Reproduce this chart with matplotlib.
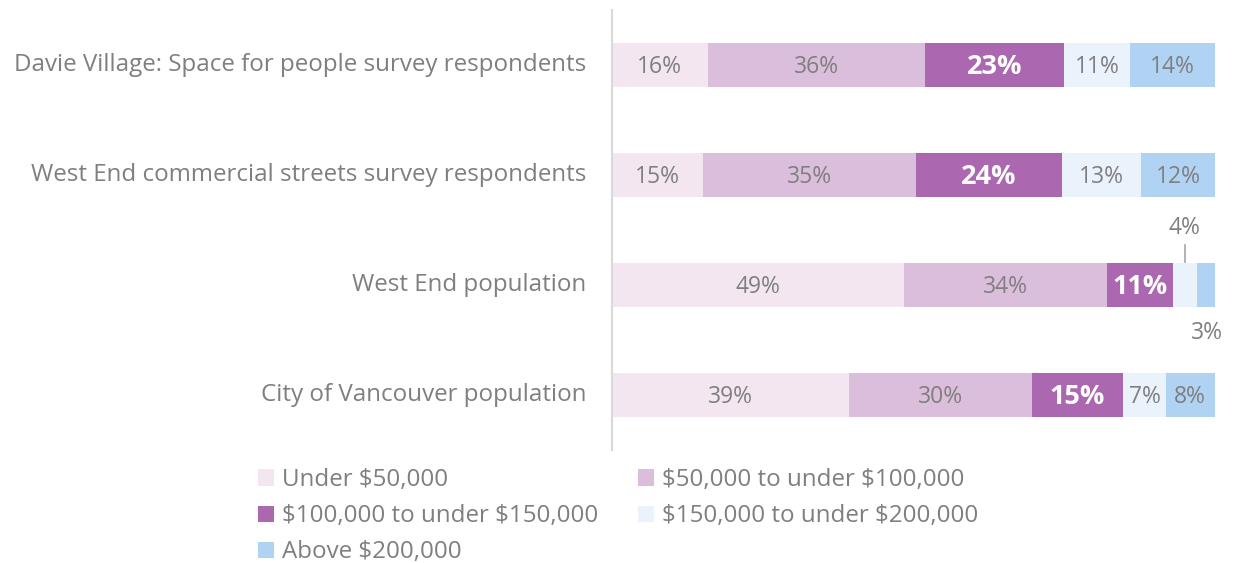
import matplotlib.pyplot as plt
from matplotlib.patches import Patch
import numpy as np

plt.rcParams['font.family'] = ['Open Sans', 'DejaVu Sans']
plt.rcParams['text.parse_math'] = False

categories = [
    "Davie Village: Space for people survey respondents",
    "West End commercial streets survey respondents",
    "West End population",
    "City of Vancouver population",
]
series_names = [
    "Under $50,000",
    "$50,000 to under $100,000",
    "$100,000 to under $150,000",
    "$150,000 to under $200,000",
    "Above $200,000",
]
values = np.array([
    [16, 36, 23, 11, 14],
    [15, 35, 24, 13, 12],
    [49, 34, 11, 4, 3],
    [39, 30, 15, 7, 8],
], dtype=float)
colors = ["#F3E6F1", "#DBBEDC", "#AB68B0", "#EAF2FC", "#B0D3F4"]
gray = "#7F7F7F"

# bars are stretched to 100% in the source chart
shares = values / values.sum(axis=1, keepdims=True) * 100

fig = plt.figure(figsize=(12.33, 5.63), dpi=100)
ax = fig.add_axes([0.496, 1 - 450 / 563, 0.489, 440 / 563])

y = np.arange(len(categories))
left = np.zeros(len(categories))
for j, name in enumerate(series_names):
    w = shares[:, j]
    ax.barh(y, w, left=left, height=0.4, color=colors[j], label=name)
    for i in range(len(categories)):
        cx = left[i] + w[i] / 2
        txt = f"{values[i, j]:.0f}%"
        if i == 2 and j == 3:
            # small slice: label above with a leader tick
            ax.text(cx, y[i] - 0.41, txt, ha='center', va='bottom', color=gray, fontsize=16.5)
            ax.plot([cx, cx], [y[i] - 0.36, y[i] - 0.21], color="#A6A6A6", lw=1.2)
            continue
        if i == 2 and j == 4:
            ax.text(cx + 0.3, y[i] + 0.44, txt, ha='center', va='center', color=gray, fontsize=16.5)
            continue
        if j == 2:
            ax.text(cx, y[i] + 0.02, txt, ha='center', va='center', color='white',
                    fontsize=19.5, fontweight='bold')
        else:
            ax.text(cx, y[i] + 0.02, txt, ha='center', va='center', color=gray, fontsize=16.5)
    left += w

ax.set_xlim(0, 100)
ax.set_ylim(3.5, -0.5)
ax.set_yticks(y - 0.025)
ax.set_yticklabels(categories, fontsize=17.4, color=gray)
ax.tick_params(axis='y', length=0, pad=18)
ax.xaxis.set_visible(False)
for s in ['top', 'right', 'bottom']:
    ax.spines[s].set_visible(False)
ax.spines['left'].set_color("#D9D9D9")
ax.spines['left'].set_linewidth(1.5)

handles = [Patch(facecolor=c, edgecolor='none') for c in colors]
order = [0, 2, 4, 1, 3]
leg = fig.legend([handles[k] for k in order], [series_names[k] for k in order],
                 ncol=2, loc='upper left', bbox_to_anchor=(258 / 1233, 1 - 468 / 563),
                 frameon=False, fontsize=17.4, handlelength=0.65, handleheight=0.65,
                 handletextpad=0.35, columnspacing=1.65, labelspacing=0.5,
                 borderaxespad=0, borderpad=0)
for t in leg.get_texts():
    t.set_color(gray)

fig.savefig("out.png", dpi=100)
